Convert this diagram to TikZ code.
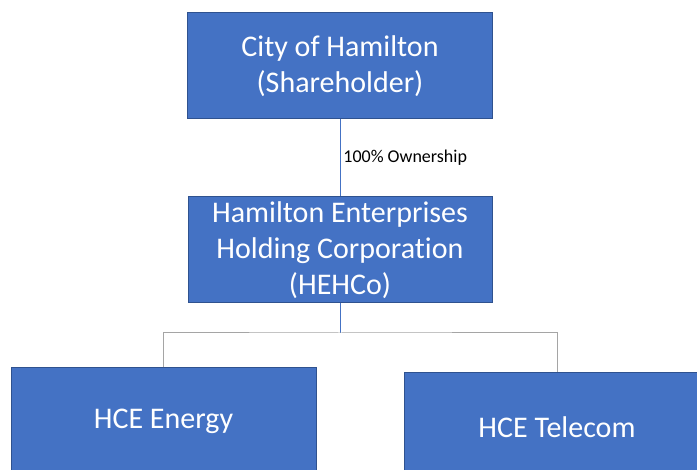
\documentclass[tikz,border=0pt]{standalone}
\usepackage{fontspec}
\setmainfont{Carlito}[Ligatures=NoCommon]
\usepackage{tikz}
\usetikzlibrary{shapes,arrows}
\definecolor{officeblue}{HTML}{4472C4}
\definecolor{officeedge}{HTML}{2F528F}
\definecolor{officegrey}{HTML}{A5A5A5}
\tikzstyle{orgblock} = [rectangle, draw=officeedge, line width=1pt, fill=officeblue, text=white, text centered, inner sep=0pt]
\tikzstyle{topblock} = [orgblock, minimum width=305pt, minimum height=106pt, font=\fontsize{30}{36}\selectfont, align=center]
\tikzstyle{subblock} = [orgblock, minimum width=305pt, minimum height=106pt, font=\fontsize{30}{36}\selectfont]
\tikzstyle{link} = [draw, officeblue, line width=0.8pt]
\tikzstyle{branch} = [draw, officegrey, line width=1pt]

\begin{document}
\begin{tikzpicture}[x=1pt, y=-1pt, node distance=184pt]
    \useasboundingbox (0,0) rectangle (697,470);
    \clip (0,0) rectangle (697,470);
    % Place nodes
    \node [topblock] (city) at (340,66) {City of Hamilton\\(Shareholder)};
    \node [topblock, below of=city, minimum width=304pt] (hehco) {Hamilton Enterprises\\Holding Corporation\\(HEHCo)};
    \node [subblock] (energy) at (163.5,421) {HCE Energy};
    \node [subblock, minimum width=306pt, minimum height=108pt] (telecom) at (557,427) {HCE Telecom};
    \coordinate (split) at (340,333);

    % Draw edges
    \path [link] (city) -- node [right, black, font=\fontsize{18}{21}\selectfont, inner sep=3pt] {100\% Ownership} (hehco);
    \path [link] (hehco) -- (split);
    \path [branch] (energy.north) |- (split) -| (telecom.north);
\end{tikzpicture}
\end{document}
